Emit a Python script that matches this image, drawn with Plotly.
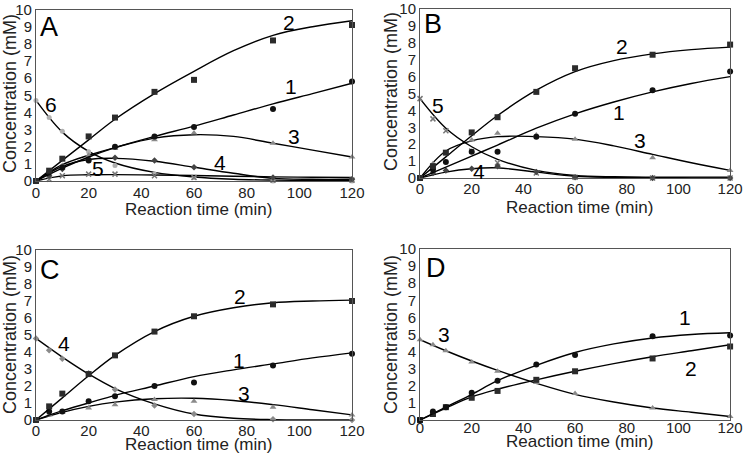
import plotly.graph_objects as go

# Time points of the measurements (min)
t = [0, 5, 10, 20, 30, 45, 60, 90, 120]
tc = [0, 10, 20, 30, 45, 60, 75, 90, 105, 120]

# Panel A
a1 = [0, 0.5, 0.8, 1.2, 2.0, 2.6, 3.15, 4.2, 5.8]
a1_fit = [0, 0.75, 1.4, 1.95, 2.6, 3.2, 3.85, 4.5, 5.1, 5.7]
a2 = [0, 0.6, 1.3, 2.6, 3.7, 5.2, 5.9, 8.2, 9.1]
a2_fit = [0, 1.2, 2.4, 3.6, 5.1, 6.4, 7.6, 8.5, 9.0, 9.35]
a3 = [0, 0.5, 0.9, 1.5, 1.9, 2.4, 2.8, 2.2, 1.4]
a3_fit = [0, 0.95, 1.5, 1.95, 2.5, 2.7, 2.6, 2.2, 1.8, 1.4]
a4 = [0, 0.3, 0.7, 1.3, 1.35, 1.2, 0.8, 0.2, 0.1]
a4_fit = [0, 0.85, 1.25, 1.32, 1.15, 0.8, 0.45, 0.15, 0.1, 0.1]
a5 = [0, 0.1, 0.3, 0.4, 0.4, 0.3, 0.2, 0.05, 0.05]
a5_fit = [0, 0.3, 0.36, 0.37, 0.35, 0.32, 0.28, 0.24, 0.22, 0.2]
a6 = [4.7, 3.7, 2.9, 1.7, 0.9, 0.4, 0.2, 0.0, 0.0]
a6_fit = [4.7, 2.85, 1.73, 1.05, 0.5, 0.23, 0.1, 0.05, 0.03, 0.02]

# Panel B
b1 = [0, 0.5, 0.95, 1.55, 1.55, 2.45, 3.8, 5.2, 6.3]
b1_fit = [0, 0.65, 1.3, 1.95, 2.95, 3.8, 4.5, 5.1, 5.6, 6.0]
b2 = [0, 0.7, 1.5, 2.7, 3.6, 5.1, 6.5, 7.3, 7.9]
b2_fit = [0, 1.25, 2.5, 3.7, 5.2, 6.3, 6.95, 7.35, 7.6, 7.75]
b3 = [0, 0.85, 1.5, 2.25, 2.65, 2.55, 2.3, 1.2, 0.45]
b3_fit = [0, 1.6, 2.2, 2.45, 2.45, 2.3, 1.9, 1.4, 0.9, 0.45]
b4 = [0, 0.3, 0.45, 0.55, 0.7, 0.35, 0.05, 0.0, 0.0]
b4_fit = [0, 0.35, 0.55, 0.6, 0.35, 0.1, 0.04, 0.02, 0.01, 0.0]
b5 = [4.7, 3.5, 2.8, 1.6, 0.9, 0.3, 0.05, 0.0, 0.0]
b5_fit = [4.7, 2.95, 1.85, 1.1, 0.45, 0.15, 0.07, 0.05, 0.05, 0.05]

# Panel C
c1 = [0, 0.5, 0.5, 1.1, 1.4, 2.0, 2.2, 3.2, 3.9]
c1_fit = [0, 0.55, 1.0, 1.45, 2.0, 2.55, 2.95, 3.3, 3.65, 3.95]
c2 = [0, 0.8, 1.55, 2.7, 3.8, 5.2, 6.1, 6.8, 7.0]
c2_fit = [0, 1.3, 2.6, 3.8, 5.2, 6.1, 6.6, 6.9, 7.0, 7.05]
c3 = [0, 0.3, 0.45, 0.7, 0.9, 1.2, 1.1, 0.75, 0.3]
c3_fit = [0, 0.45, 0.8, 1.05, 1.25, 1.28, 1.15, 0.9, 0.6, 0.3]
c4 = [4.8, 4.1, 3.6, 2.75, 1.8, 0.85, 0.35, 0.05, 0.0]
c4_fit = [4.8, 3.7, 2.7, 1.85, 0.95, 0.35, 0.1, 0.02, 0.0, 0.0]

# Panel D
d1 = [0, 0.5, 0.75, 1.6, 2.3, 3.25, 3.8, 4.9, 4.95]
d1_fit = [0, 0.75, 1.5, 2.3, 3.2, 3.95, 4.45, 4.8, 5.0, 5.1]
d2 = [0, 0.35, 0.75, 1.3, 1.7, 2.35, 2.85, 3.6, 4.3]
d2_fit = [0, 0.7, 1.35, 1.8, 2.35, 2.85, 3.3, 3.7, 4.05, 4.4]
d3 = [4.7, 4.4, 4.05, 3.4, 2.85, 2.2, 1.55, 0.7, 0.2]
d3_fit = [4.7, 4.05, 3.45, 2.9, 2.15, 1.5, 1.05, 0.7, 0.45, 0.2]

# Marker styles
SQ = dict(symbol='square', size=6, color='#2b2b2b')
CI = dict(symbol='circle', size=6, color='#111111')
TR = dict(symbol='triangle-up', size=6, color='#8a8a8a')
DI = dict(symbol='diamond', size=5, color='#444444')
XX = dict(symbol='x-thin', size=5, color='#777777', line=dict(width=1.5, color='#777777'))
LG = dict(symbol='circle', size=5, color='#b0b0b0')
GD = dict(symbol='diamond', size=5, color='#8a8a8a')

FONT = 'Liberation Sans, Arial, sans-serif'
NARROW = 'Liberation Sans Narrow, Arial Narrow, Liberation Sans, sans-serif'

fig = go.Figure()


def ax(k, name):
    return name if k == 1 else '%s%d' % (name, k)


def add_series(k, y, y_fit, marker):
    """Fitted curve + measured points in subplot k"""
    fig.add_trace(go.Scatter(x=tc, y=y_fit, mode='lines', line_shape='spline',
                             line=dict(color='black', width=1.4),
                             xaxis=ax(k, 'x'), yaxis=ax(k, 'y'), showlegend=False, hoverinfo='skip'))
    fig.add_trace(go.Scatter(x=t, y=y, mode='markers', marker=marker,
                             xaxis=ax(k, 'x'), yaxis=ax(k, 'y'), showlegend=False, cliponaxis=False))


panels = [
    (1, [(a6, a6_fit, LG), (a5, a5_fit, XX), (a4, a4_fit, DI), (a3, a3_fit, TR),
         (a1, a1_fit, CI), (a2, a2_fit, SQ)]),
    (2, [(b5, b5_fit, XX), (b4, b4_fit, DI), (b3, b3_fit, TR),
         (b1, b1_fit, CI), (b2, b2_fit, SQ)]),
    (3, [(c4, c4_fit, GD), (c3, c3_fit, TR), (c1, c1_fit, CI), (c2, c2_fit, SQ)]),
    (4, [(d3, d3_fit, TR), (d2, d2_fit, SQ), (d1, d1_fit, CI)]),
]
for k, series in panels:
    for y, y_fit, m in series:
        add_series(k, y, y_fit, m)

# Panel letters and curve numbers: (panel, x, y, text, size)
labels = [
    (1, 5, 9.0, 'A', 27), (2, 5.2, 9.1, 'B', 27), (3, 5.4, 8.8, 'C', 27), (4, 6, 8.9, 'D', 27),
    (1, 96, 9.25, '2', 21), (1, 97, 5.5, '1', 21), (1, 98, 2.6, '3', 21),
    (1, 70, 1.1, '4', 21), (1, 23.5, 0.7, '5', 21), (1, 5.8, 4.45, '6', 21),
    (2, 78, 7.8, '2', 21), (2, 77, 3.85, '1', 21), (2, 85, 2.25, '3', 21),
    (2, 23, 0.4, '4', 21), (2, 6.8, 4.3, '5', 21),
    (3, 77.5, 7.25, '2', 21), (3, 77, 3.5, '1', 21), (3, 79, 1.55, '3', 21), (3, 10.5, 4.5, '4', 21),
    (4, 102.7, 6.0, '1', 21), (4, 105, 3.0, '2', 21), (4, 9.3, 5.0, '3', 21),
]
for k, x, y, txt, size in labels:
    fig.add_annotation(x=x, y=y, text=txt, showarrow=False,
                       xref=ax(k, 'x'), yref=ax(k, 'y'), xanchor='center', yanchor='middle',
                       font=dict(family=FONT if size > 21 else NARROW, size=size, color='black'))

xdom = {1: [0.0483, 0.4725], 2: [0.5638, 0.98], 3: [0.0483, 0.4725], 4: [0.5638, 0.98]}
ydom = {1: [0.604, 0.979], 2: [0.6105, 0.98], 3: [0.081, 0.453], 4: [0.081, 0.455]}
# shift of the x tick labels towards the axis (px)
tick_shift = {1: -2, 2: -3, 3: -3, 4: -6}

# Axis title positions in pixels: (x title centre x, y) and (y title centre x, y)
xtitle_px = {1: (198, 210), 2: (579, 207), 3: (198, 444), 4: (579, 441)}
ytitle_px = {1: (10, 94), 2: (391, 92), 3: (10, 335), 4: (391, 335)}

W, H = 745, 457
layout = dict(width=W, height=H, margin=dict(l=0, r=0, t=0, b=0),
              plot_bgcolor='white', paper_bgcolor='white',
              font=dict(family=FONT, color='#222222'))
for k in range(1, 5):
    sx = '' if k == 1 else str(k)
    layout['xaxis' + sx] = dict(
        domain=xdom[k], range=[0, 120], tickvals=[0, 20, 40, 60, 80, 100, 120],
        anchor='y' + sx, showline=True, mirror=True, linecolor='#555555', linewidth=1,
        showgrid=False, zeroline=False, ticks='', tickfont=dict(size=15), automargin=False,
        ticklabelstandoff=tick_shift[k], ticklabeloverflow='allow')
    layout['yaxis' + sx] = dict(
        domain=ydom[k], range=[0, 10], dtick=1,
        anchor='x' + sx, showline=True, mirror=True, linecolor='#555555', linewidth=1,
        showgrid=False, zeroline=False, ticks='', tickfont=dict(size=15), automargin=False,
        ticklabeloverflow='allow')
fig.update_layout(**layout)

for k in range(1, 5):
    px, py = xtitle_px[k]
    fig.add_annotation(x=px / W, y=1 - py / H, xref='paper', yref='paper', showarrow=False,
                       xanchor='center', yanchor='middle',
                       text='Reaction time (min)', font=dict(size=17, color='#222222'))
    px, py = ytitle_px[k]
    fig.add_annotation(x=px / W, y=1 - py / H, xref='paper', yref='paper', showarrow=False,
                       xanchor='center', yanchor='middle',
                       text='Concentration (mM)', textangle=-90,
                       font=dict(size=18, color='#222222'))

# page body has an 8px default margin, remove it so the figure fills the window
fig.write_html('out.html', config={'displayModeBar': False},
               post_script="document.body.style.margin='0';")
